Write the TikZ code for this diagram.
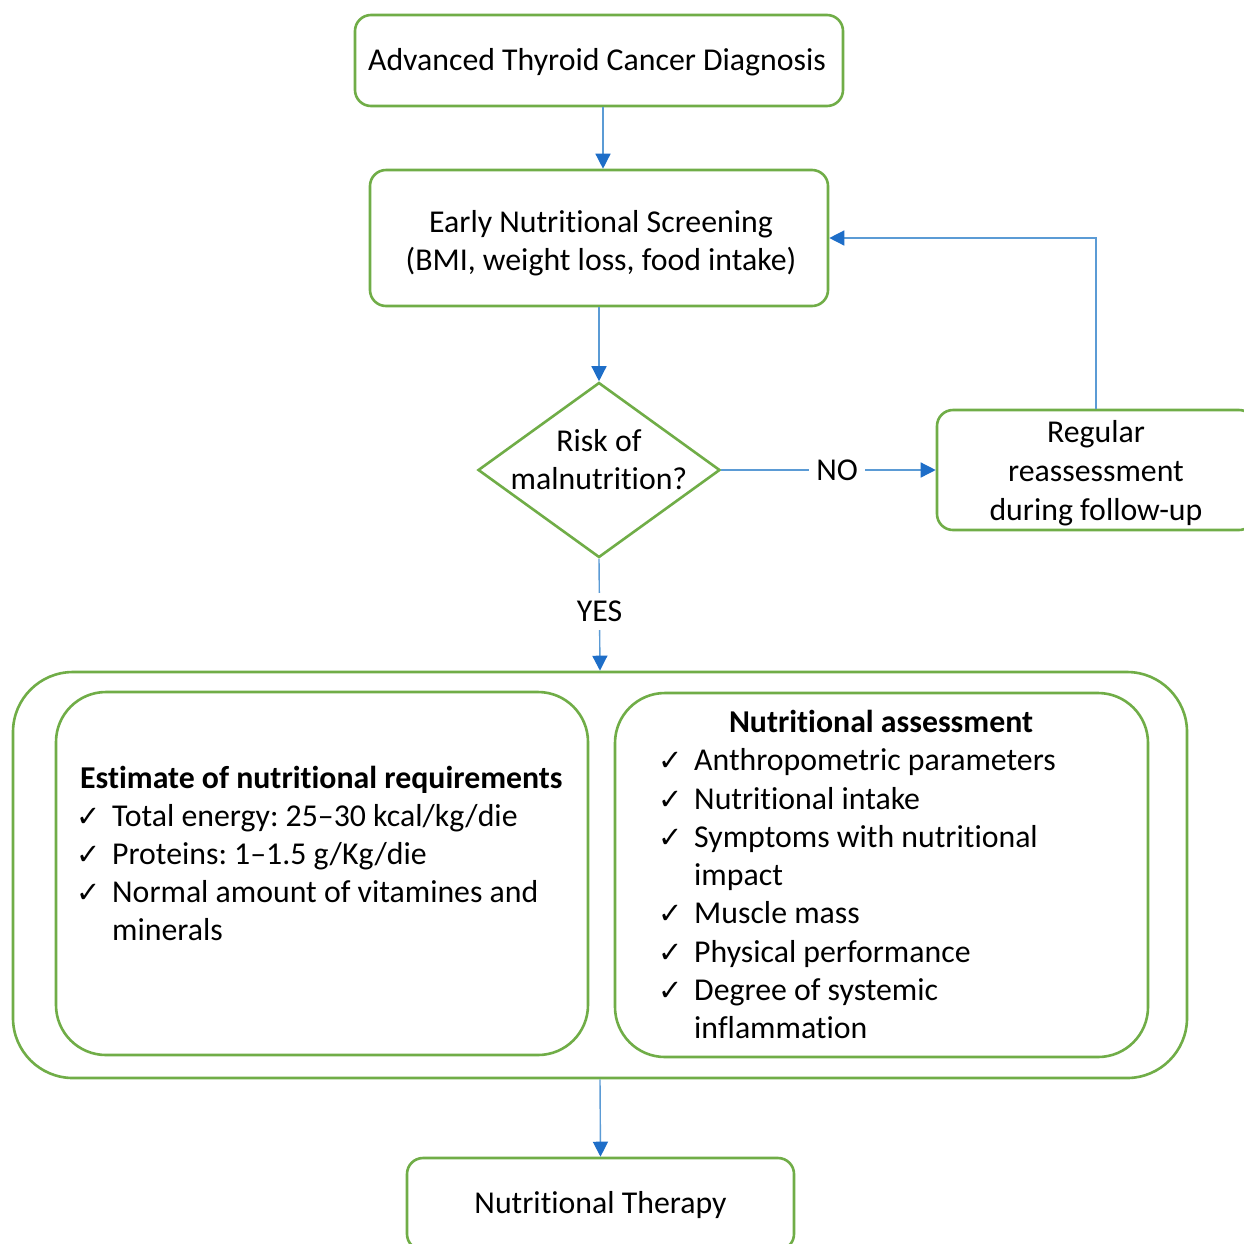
\documentclass[tikz,border=0pt]{standalone}
\usepackage{fontspec}
\setmainfont{Carlito}[Ligatures=NoCommon]
\newfontfamily\chkfont{DejaVu Sans}
\usetikzlibrary{shapes.geometric,arrows.meta}
\definecolor{boxgreen}{RGB}{112,173,71}
\definecolor{linkblue}{RGB}{91,155,213}
\definecolor{tipblue}{RGB}{30,110,200}
\newcommand{\chk}{\makebox[36pt][l]{\chkfont\fontsize{29}{29}\selectfont ✓}}
\frenchspacing
\begin{document}
\begin{tikzpicture}[x=1pt,y=-1pt,
  box/.style={draw=boxgreen,line width=2.6pt,rounded corners=16pt,inner sep=0pt},
  bigbox/.style={draw=boxgreen,line width=2.6pt,inner sep=0pt},
  txt/.style={font=\fontsize{31.8}{38}\selectfont,text=black,inner sep=0pt},
  link/.style={draw=linkblue,line width=1.4pt,-{Triangle[length=15pt,width=15pt,color=tipblue]}},
  lbl/.style={fill=white,inner xsep=7pt,inner ysep=8pt,font=\fontsize{31.8}{38}\selectfont}
]
\useasboundingbox (0,0) rectangle (1244,1243);
\fill[white] (0,0) rectangle (1244,1243);

\node[box,minimum width=488pt,minimum height=91pt] (diag) at (599,60.5) {};
\node[txt] (diagtxt) at (597,62.5) {Advanced Thyroid Cancer Diagnosis};
\node[box,minimum width=458pt,minimum height=136pt] (screen) at (599,238) {};
\node[txt,align=center] (screentxt) at (601,243) {Early Nutritional Screening\\(BMI, weight loss, food intake)};
\node[draw=boxgreen,line width=2.6pt,diamond,minimum width=242pt,minimum height=175pt,inner sep=0pt] (risk) at (599,470) {};
\node[txt,align=center] (risktxt) at (599,460) {Risk of\\malnutrition?};
\node[box,minimum width=318pt,minimum height=120pt] (regular) at (1096,470) {};
\node[txt,align=center,font=\fontsize{31.8}{39}\selectfont] (regtxt) at (1096,473) {Regular\\reassessment\\during follow-up};

\node[bigbox,rounded corners=60pt,minimum width=1174pt,minimum height=406pt] (outer) at (600,875) {};
\node[bigbox,rounded corners=50pt,minimum width=532pt,minimum height=363pt] (left) at (322,873.5) {};
\node[bigbox,rounded corners=50pt,minimum width=533pt,minimum height=364pt] (right) at (881.5,875) {};

\node[txt,align=left,anchor=north west] (ltxt) at (80,766) {\textbf{Estimate of nutritional requirements}\\
\hspace*{-4pt}\chk Total energy: 25–30 kcal/kg/die\\
\hspace*{-4pt}\chk Proteins: 1–1.5 g/Kg/die\\
\hspace*{-4pt}\chk Normal amount of vitamines and\\
\hspace*{32pt}minerals};

\node[txt,anchor=base] (rhead) at (881,732) {\textbf{Nutritional assessment}};
\node[txt,align=left,anchor=north west,font=\fontsize{31.8}{38.3}\selectfont] (rtxt) at (658,748.5) {\chk Anthropometric parameters\\
\chk Nutritional intake\\
\chk Symptoms with nutritional\\
\hspace*{36pt}impact\\
\chk Muscle mass\\
\chk Physical performance\\
\chk Degree of systemic\\
\hspace*{36pt}inflammation};

\node[box,minimum width=387pt,minimum height=92pt] (therapy) at (600.5,1204) {};
\node[txt] (therapytxt) at (600.5,1205) {Nutritional Therapy};

\draw[link] ([xshift=4pt]diag.south) -- ([xshift=4pt]screen.north);
\draw[link] (screen.south) -- (risk.north);
\draw[link] (risk.east) -- node[lbl,pos=0.54] (nolbl) {NO} (regular.west);
\draw[link] (risk.south) -- node[lbl,pos=0.47] (yeslbl) {YES} (outer.north);
\draw[link] (regular.north) |- (screen.east);
\draw[link] (outer.south) -- (therapy.north);
\end{tikzpicture}
\end{document}
